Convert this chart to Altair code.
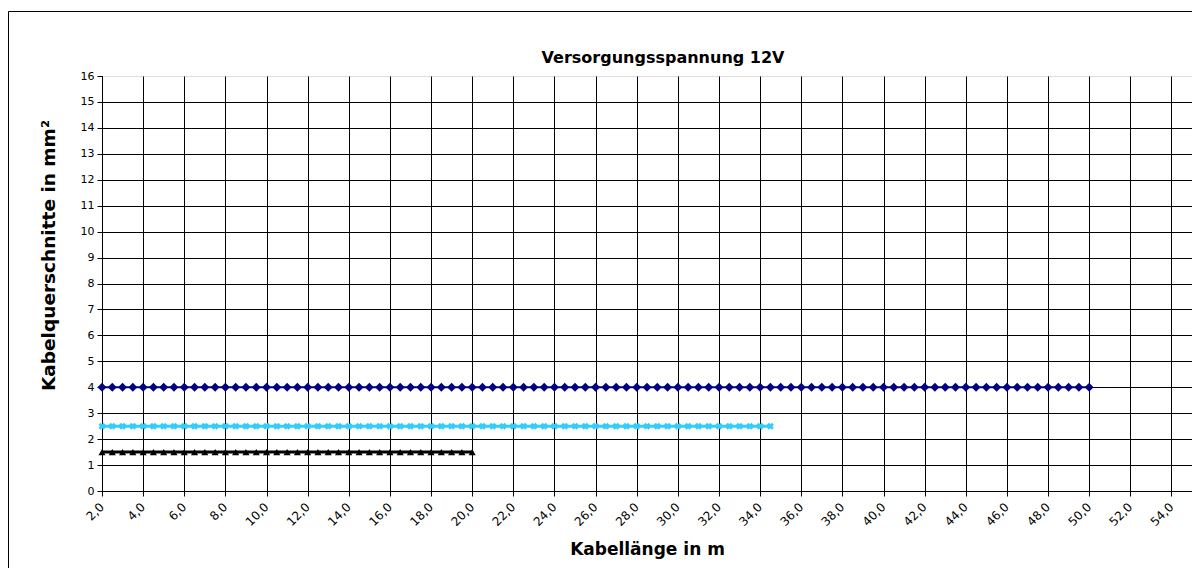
import altair as alt
import pandas as pd

# Kabellänge (m), categories at 0.5 m step
laenge_4 = [2.0, 2.5, 3.0, 3.5, 4.0, 4.5, 5.0, 5.5, 6.0, 6.5, 7.0, 7.5, 8.0, 8.5, 9.0, 9.5,
            10.0, 10.5, 11.0, 11.5, 12.0, 12.5, 13.0, 13.5, 14.0, 14.5, 15.0, 15.5, 16.0, 16.5,
            17.0, 17.5, 18.0, 18.5, 19.0, 19.5, 20.0, 20.5, 21.0, 21.5, 22.0, 22.5, 23.0, 23.5,
            24.0, 24.5, 25.0, 25.5, 26.0, 26.5, 27.0, 27.5, 28.0, 28.5, 29.0, 29.5, 30.0, 30.5,
            31.0, 31.5, 32.0, 32.5, 33.0, 33.5, 34.0, 34.5, 35.0, 35.5, 36.0, 36.5, 37.0, 37.5,
            38.0, 38.5, 39.0, 39.5, 40.0, 40.5, 41.0, 41.5, 42.0, 42.5, 43.0, 43.5, 44.0, 44.5,
            45.0, 45.5, 46.0, 46.5, 47.0, 47.5, 48.0, 48.5, 49.0, 49.5, 50.0]
laenge_25 = [2.0, 2.5, 3.0, 3.5, 4.0, 4.5, 5.0, 5.5, 6.0, 6.5, 7.0, 7.5, 8.0, 8.5, 9.0, 9.5,
             10.0, 10.5, 11.0, 11.5, 12.0, 12.5, 13.0, 13.5, 14.0, 14.5, 15.0, 15.5, 16.0, 16.5,
             17.0, 17.5, 18.0, 18.5, 19.0, 19.5, 20.0, 20.5, 21.0, 21.5, 22.0, 22.5, 23.0, 23.5,
             24.0, 24.5, 25.0, 25.5, 26.0, 26.5, 27.0, 27.5, 28.0, 28.5, 29.0, 29.5, 30.0, 30.5,
             31.0, 31.5, 32.0, 32.5, 33.0, 33.5, 34.0, 34.5]
laenge_15 = [2.0, 2.5, 3.0, 3.5, 4.0, 4.5, 5.0, 5.5, 6.0, 6.5, 7.0, 7.5, 8.0, 8.5, 9.0, 9.5,
             10.0, 10.5, 11.0, 11.5, 12.0, 12.5, 13.0, 13.5, 14.0, 14.5, 15.0, 15.5, 16.0, 16.5,
             17.0, 17.5, 18.0, 18.5, 19.0, 19.5, 20.0]

# Kabelquerschnitt (mm²) per series
querschnitt_4 = 4.0
querschnitt_25 = 2.5
querschnitt_15 = 1.5

x_ticks = [2, 4, 6, 8, 10, 12, 14, 16, 18, 20, 22, 24, 26, 28, 30, 32, 34, 36, 38, 40,
           42, 44, 46, 48, 50, 52, 54]
y_ticks = [0, 1, 2, 3, 4, 5, 6, 7, 8, 9, 10, 11, 12, 13, 14, 15, 16]

titel = "Versorgungsspannung 12V"

FONT = "DejaVu Sans"

df4 = pd.DataFrame({"x": laenge_4, "y": [querschnitt_4] * len(laenge_4)})
df25 = pd.DataFrame({"x": laenge_25, "y": [querschnitt_25] * len(laenge_25)})
df15 = pd.DataFrame({"x": laenge_15, "y": [querschnitt_15] * len(laenge_15)})

xscale = alt.Scale(domain=[2, 55], nice=False, zero=False)
yscale = alt.Scale(domain=[0, 16], nice=False, zero=True)

xenc = alt.X("x:Q", scale=xscale, axis=alt.Axis(
    values=x_ticks,
    labelExpr="replace(format(datum.value, '.1f'), '.', ',')",
    labelAngle=-45, labelFontSize=12, labelFont=FONT, labelColor="black",
    labelPadding=5, labelOffset=-4,
    tickSize=5, tickColor="black", domainColor="black",
    grid=True, gridColor="black", gridWidth=1, gridOpacity=1,
    title="Kabellänge in m", titleFont=FONT, titleFontSize=17, titleFontWeight="bold",
    titleColor="black", titlePadding=14,
))
yenc = alt.Y("y:Q", scale=yscale, axis=alt.Axis(
    values=y_ticks, format="d",
    labelFontSize=11, labelFont=FONT, labelColor="black", labelPadding=3,
    tickSize=5, tickColor="black", domainColor="black",
    grid=True, gridColor="black", gridWidth=1,
    gridOpacity=alt.condition("datum.value == 16", alt.value(0), alt.value(1)),
    title="Kabelquerschnitte in mm²", titleFont=FONT, titleFontSize=18.5,
    titleFontWeight="bold", titleColor="black",
    titleX=-54, titleY=179, titleAlign="center", titleBaseline="middle", titleAngle=270,
))

def series(df, color, shape, size, lw, angle=0):
    base = alt.Chart(df)
    line = base.mark_line(color=color, strokeWidth=lw).encode(x=xenc, y=yenc)
    pts = base.mark_point(color=color, shape=shape, size=size, filled=True,
                          opacity=1, angle=angle).encode(x=xenc, y=yenc)
    return line + pts

border = alt.Chart(pd.DataFrame({"a": [0]})).mark_rect(
    filled=False, stroke="black", strokeWidth=1
).encode(x=alt.value(-93.5), x2=alt.value(1120), y=alt.value(-64.5), y2=alt.value(520))

title_mark = alt.Chart(pd.DataFrame({"t": [titel]})).mark_text(
    font=FONT, fontSize=16, fontWeight="bold", color="black",
    align="center", baseline="middle"
).encode(text="t:N", x=alt.value(561), y=alt.value(-18))

chart = alt.layer(
    border,
    title_mark,
    series(df15, "black", "triangle-up", 50, 3),
    series(df25, "#33CCFF", "cross", 50, 3, angle=45),
    series(df4, "#000080", "diamond", 80, 2),
).properties(
    width=1090, height=415,
    autosize=alt.AutoSizeParams(type="none"),
    padding={"left": 94, "top": 68, "right": 0, "bottom": 77},
).configure_view(stroke=None).configure(background="white")

chart.save("out.html", embed_options={"renderer": "svg", "actions": False})
